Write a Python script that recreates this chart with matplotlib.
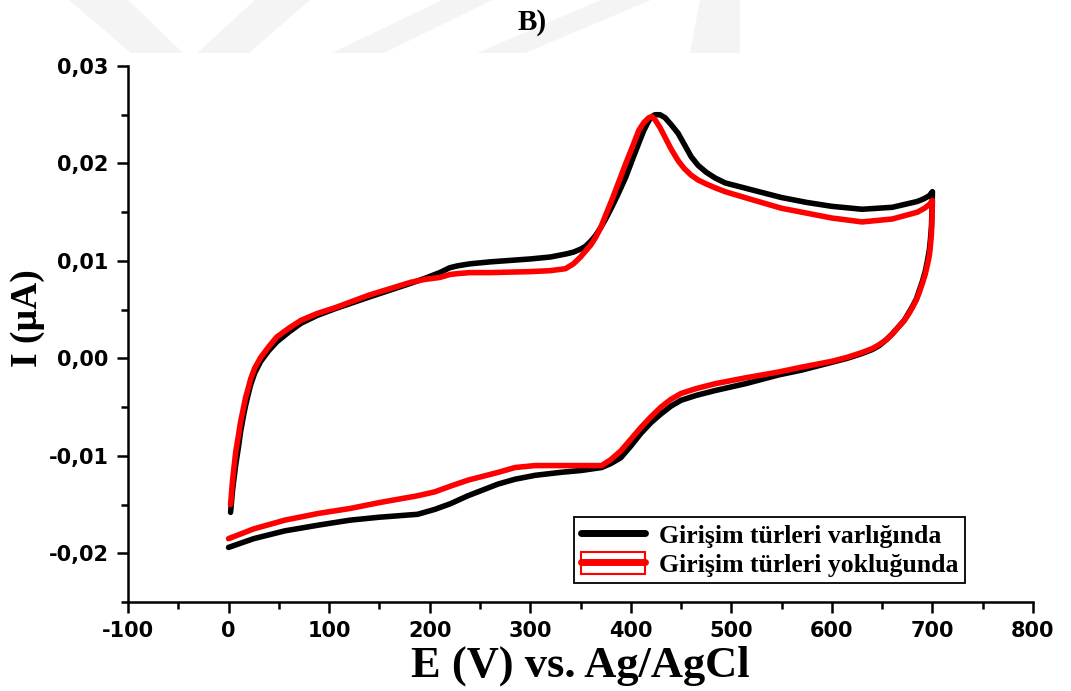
import matplotlib
matplotlib.use("Agg")
import matplotlib.pyplot as plt
from matplotlib.lines import Line2D
from matplotlib.patches import Patch, Polygon
from matplotlib.legend_handler import HandlerTuple
from matplotlib.ticker import MultipleLocator, FuncFormatter

# Forward (anodic) scan, potential in mV
E_forward = [2, 4, 7, 10, 12, 15, 17, 20, 22, 26, 32, 40, 48, 60, 72, 88, 106, 140,
             181, 195, 210, 220, 228, 240, 260, 300, 320, 335, 343, 350, 355, 360,
             365, 370, 375, 381, 388, 395, 402, 408, 413, 418, 421, 424, 429, 434,
             440, 447, 453, 460, 467, 475, 484, 494, 520, 550, 575, 600, 630, 660,
             685, 692, 697, 700]
I_with_forward = [-0.0158, -0.0135, -0.0110, -0.0090, -0.0075, -0.0058, -0.0048, -0.0035,
                  -0.0027, -0.0015, -0.0003, 0.0008, 0.0017, 0.0027, 0.0036, 0.0044,
                  0.0051, 0.0063, 0.0077, 0.0082, 0.0088, 0.0093, 0.0095, 0.0097,
                  0.0099, 0.0102, 0.0104, 0.0107, 0.0109, 0.0112, 0.0115, 0.0120,
                  0.0126, 0.0134, 0.0143, 0.0155, 0.0170, 0.0186, 0.0205, 0.0221,
                  0.0234, 0.0244, 0.0248, 0.0250, 0.0250, 0.0247, 0.0240, 0.0231,
                  0.0220, 0.0207, 0.0198, 0.0191, 0.0185, 0.0180, 0.0173, 0.0165,
                  0.0160, 0.0156, 0.0153, 0.0155, 0.0161, 0.0164, 0.0167, 0.0171]
I_without_forward = [-0.0150, -0.0125, -0.0097, -0.0078, -0.0065, -0.0050, -0.0040, -0.0029,
                     -0.0021, -0.0010, 0.0001, 0.0012, 0.0022, 0.0031, 0.0039, 0.0046,
                     0.0052, 0.0065, 0.0078, 0.0081, 0.0083, 0.0086, 0.0087, 0.0088,
                     0.0088, 0.0089, 0.0090, 0.0092, 0.0097, 0.0104, 0.0110, 0.0116,
                     0.0124, 0.0134, 0.0147, 0.0162, 0.0181, 0.0200, 0.0218, 0.0234,
                     0.0242, 0.0247, 0.0248, 0.0245, 0.0237, 0.0227, 0.0215, 0.0203,
                     0.0195, 0.0188, 0.0183, 0.0179, 0.0175, 0.0171, 0.0163, 0.0154,
                     0.0149, 0.0144, 0.0140, 0.0143, 0.0150, 0.0154, 0.0158, 0.0162]

# Reverse (cathodic) scan
E_reverse = [700, 699.5, 699, 698, 697, 695, 693, 690, 687, 684, 680, 676, 672, 666, 660,
             654, 647, 640, 630, 615, 600, 570, 547, 514, 484, 465, 450, 440, 430, 420,
             410, 400, 390, 380, 371, 351, 330, 305, 285, 268, 238, 221, 205, 188, 150,
             121, 90, 56, 25, 0]
I_with_reverse = [0.0171, 0.0150, 0.0135, 0.0122, 0.0112, 0.0100, 0.0090, 0.0079, 0.0070,
                  0.0061, 0.0053, 0.0046, 0.0039, 0.0032, 0.0025, 0.0019, 0.0013, 0.0009,
                  0.0005, 0.0000, -0.0004, -0.0012, -0.0017, -0.0026, -0.0033, -0.0038,
                  -0.0043, -0.0049, -0.0057, -0.0066, -0.0077, -0.0090, -0.0102, -0.0108,
                  -0.0112, -0.0115, -0.0117, -0.0120, -0.0124, -0.0129, -0.0141, -0.0149,
                  -0.0155, -0.0160, -0.0163, -0.0166, -0.0171, -0.0177, -0.0185, -0.0194]
I_without_reverse = [0.0162, 0.0142, 0.0128, 0.0116, 0.0106, 0.0096, 0.0087, 0.0077, 0.0068,
                     0.0060, 0.0052, 0.0045, 0.0039, 0.0032, 0.0025, 0.0019, 0.0014, 0.0010,
                     0.0006, 0.0001, -0.0003, -0.0009, -0.0014, -0.0020, -0.0026, -0.0031,
                     -0.0036, -0.0042, -0.0050, -0.0060, -0.0071, -0.0083, -0.0095, -0.0104,
                     -0.0110, -0.0110, -0.0110, -0.0110, -0.0112, -0.0117, -0.0125, -0.0131,
                     -0.0137, -0.0141, -0.0148, -0.0154, -0.0159, -0.0166, -0.0175, -0.0185]

labels = ["Girişim türleri varlığında", "Girişim türleri yokluğunda"]
colors = ["black", "#ff0000"]

x_ticks = [-100, 0, 100, 200, 300, 400, 500, 600, 700, 800]
y_ticks = [-0.02, -0.01, 0.00, 0.01, 0.02, 0.03]

W, H = 1071, 691
fig = plt.figure(figsize=(W / 100, H / 100), dpi=100)

# faint background logo shapes along the top edge
logo_color = "#f4f4f4"
logo_shapes = [
    [(69, 0), (128, 0), (183, 53), (131, 53)],
    [(255, 0), (310, 0), (249, 53), (197, 53)],
    [(442, 0), (492, 0), (384, 53), (332, 53)],
    [(601, 0), (651, 0), (525, 53), (477, 53)],
    [(700, 0), (740, 0), (740, 53), (690, 53)],
]
for pts in logo_shapes:
    fig.patches.append(Polygon([(x / W, 1 - y / H) for x, y in pts], closed=True,
                               facecolor=logo_color, edgecolor="none",
                               transform=fig.transFigure, zorder=0))

ax = fig.add_axes([128 / W, 1 - 602 / H, (1033 - 128) / W, (602 - 66) / H])
ax.set_facecolor("none")

series = [
    (I_with_forward, I_with_reverse, colors[0], labels[0]),
    (I_without_forward, I_without_reverse, colors[1], labels[1]),
]
for i_fwd, i_rev, c, lab in series:
    ax.plot(E_forward + E_reverse, i_fwd + i_rev, color=c, lw=4.0,
            solid_capstyle="round", solid_joinstyle="round", label=lab)

ax.set_xlim(-100, 800)
ax.set_ylim(-0.025, 0.03)
ax.set_xticks(x_ticks)
ax.set_yticks(y_ticks)
ax.xaxis.set_minor_locator(MultipleLocator(50))
ax.yaxis.set_minor_locator(MultipleLocator(0.005))
ax.yaxis.set_major_formatter(FuncFormatter(lambda v, p: f"{v:.2f}".replace(".", ",").replace("-0,00", "0,00")))
ax.xaxis.set_major_formatter(FuncFormatter(lambda v, p: f"{v:.0f}"))

for s in ["top", "right"]:
    ax.spines[s].set_visible(False)
for s in ["left", "bottom"]:
    ax.spines[s].set_linewidth(1.8)

ax.tick_params(which="major", direction="out", length=8, width=1.8, pad=6)
ax.tick_params(which="minor", direction="out", length=5, width=1.8)
for lab in ax.get_xticklabels() + ax.get_yticklabels():
    lab.set_fontfamily("DejaVu Sans")
    lab.set_fontweight("bold")
    lab.set_fontsize(15)

ax.set_xlabel("E (V) vs. Ag/AgCl", fontfamily="Liberation Serif", fontweight="bold",
              fontsize=32, labelpad=3)
ax.set_ylabel("I (µA)", fontfamily="Liberation Serif", fontweight="bold",
              fontsize=27)
ax.yaxis.set_label_coords(-0.092, 0.53)
fig.text(532 / W, 1 - 22 / H, "B)", fontfamily="Liberation Serif", fontweight="bold",
         fontsize=21, ha="center", va="center")

# legend: plain line for the first entry, boxed line for the second
h_black = Line2D([], [], color=colors[0], lw=5, solid_capstyle="round")
h_red = (Patch(facecolor="white", edgecolor=colors[1], lw=1.5),
         Line2D([], [], color=colors[1], lw=5, solid_capstyle="round"))
leg = ax.legend([h_black, h_red], labels, handler_map={tuple: HandlerTuple(ndivide=1)},
                loc="lower left", bbox_to_anchor=(0.493, 0.035),
                prop={"family": "Liberation Serif", "weight": "bold", "size": 18.5},
                frameon=True, fancybox=False, edgecolor="black", framealpha=1,
                handlelength=2.5, handleheight=0.95, labelspacing=0.15,
                borderpad=0.25, handletextpad=0.55, borderaxespad=0)
leg.get_frame().set_linewidth(1.3)

fig.savefig("out.png", dpi=100)
